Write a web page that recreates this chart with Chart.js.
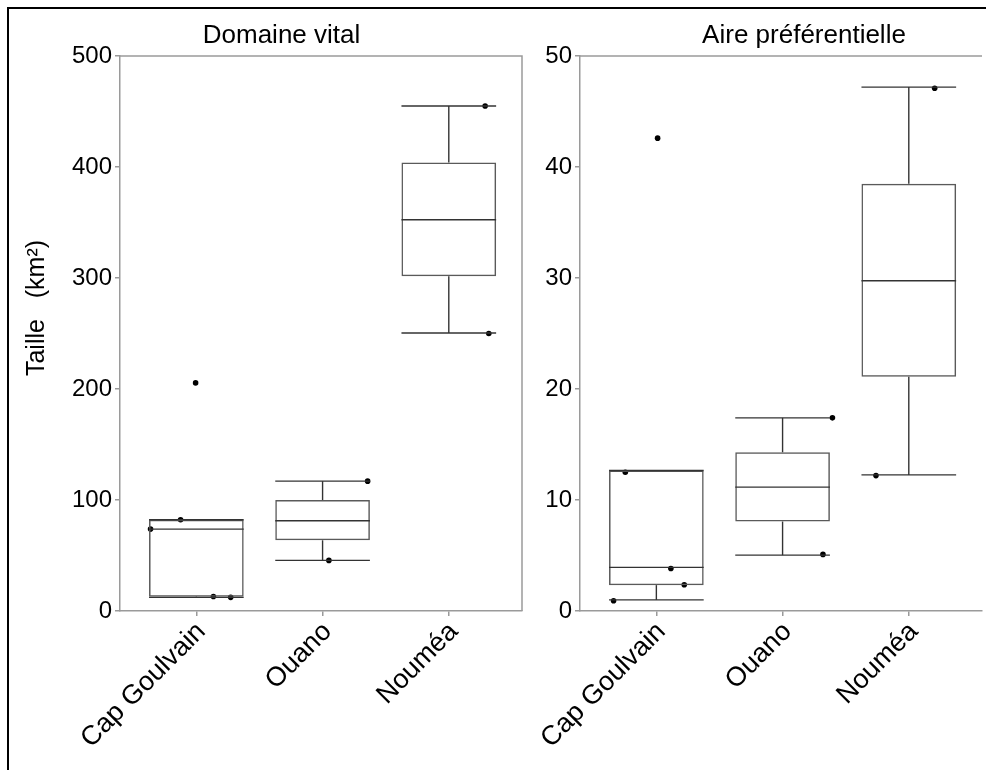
<!DOCTYPE html>
<html>
<head>
<meta charset="utf-8">
<script src="https://cdn.jsdelivr.net/npm/chart.js@4.4.1/dist/chart.umd.min.js"></script>
<style>
  html, body { margin: 0; padding: 0; background: #fff; width: 986px; height: 770px; overflow: hidden; }
  #frame { position: absolute; left: 7px; top: 7px; width: 1200px; height: 1000px; border: 2px solid #000; }
  canvas { position: absolute; top: 0; }
</style>
</head>
<body>
<div id="frame"></div>
<canvas id="vital" width="530" height="770" style="left:0"></canvas>
<canvas id="pref" width="456" height="770" style="left:530px"></canvas>
<script>
// Box plots of home range sizes (km²) per site
const sites = ['Cap Goulvain', 'Ouano', 'Nouméa'];

// Domaine vital
const vitalTicks = [0, 100, 200, 300, 400, 500];
const vitalQ1 = [12.9, 63.7, 301.5];
const vitalMedian = [73.8, 81.3, 352.5];
const vitalQ3 = [82.2, 100, 404];
const vitalLow = [12.3, 45.6, 250.5];
const vitalHigh = [82.2, 117, 455];
const vitalPointSite = [1, 1, 1, 1, 1, 2, 2, 3, 3];
const vitalPointValue = [73.8, 82.2, 205.5, 13, 12.3, 117, 45.6, 455, 250];
const vitalPointJitter = [-0.363, -0.125, -0.006, 0.135, 0.272, 0.357, 0.05, 0.288, 0.317];

// Aire préférentielle
const prefTicks = [0, 10, 20, 30, 40, 50];
const prefQ1 = [2.33, 8.06, 21.1];
const prefMedian = [3.93, 11.16, 29.75];
const prefQ3 = [12.66, 14.3, 38.5];
const prefLow = [1.0, 5.03, 12.26];
const prefHigh = [12.66, 17.4, 47.2];
const prefPointSite = [1, 1, 1, 1, 1, 2, 2, 3, 3];
const prefPointValue = [0.93, 12.5, 42.6, 3.83, 2.37, 17.4, 5.1, 47.1, 12.2];
const prefPointJitter = [-0.339, -0.246, 0.01, 0.115, 0.221, 0.395, 0.32, 0.205, -0.26];

const FONT = "'Liberation Sans', Arial, sans-serif";
const AXIS_GREY = '#9a9a9a';

// whiskers, medians, plot frame and the titles
const boxPlot = {
    id: 'boxPlot',
    afterDatasetDraw(chart, args, opts) {
        if (args.index !== 0) return;
        const { ctx, scales: { x, y } } = chart;
        const hw = opts.halfWidth;
        const line = (x1, y1, x2, y2) => {
            ctx.beginPath();
            ctx.moveTo(x1, y1);
            ctx.lineTo(x2, y2);
            ctx.stroke();
        };
        ctx.save();
        ctx.strokeStyle = '#333';
        ctx.lineWidth = 1.4;
        opts.median.forEach((m, i) => {
            const xc = x.getPixelForValue(i + 1);
            const xl = x.getPixelForValue(i + 1 - hw);
            const xr = x.getPixelForValue(i + 1 + hw);
            line(xl, y.getPixelForValue(m), xr, y.getPixelForValue(m));
            line(xc, y.getPixelForValue(opts.q3[i]), xc, y.getPixelForValue(opts.high[i]));
            line(xc, y.getPixelForValue(opts.q1[i]), xc, y.getPixelForValue(opts.low[i]));
            line(xl, y.getPixelForValue(opts.high[i]), xr, y.getPixelForValue(opts.high[i]));
            line(xl, y.getPixelForValue(opts.low[i]), xr, y.getPixelForValue(opts.low[i]));
        });
        ctx.restore();
    },
    afterDraw(chart, args, opts) {
        const { ctx, chartArea } = chart;
        ctx.save();
        ctx.strokeStyle = AXIS_GREY;
        ctx.lineWidth = 1.5;
        ctx.beginPath();
        ctx.moveTo(chartArea.left, chartArea.top);
        ctx.lineTo(chartArea.right, chartArea.top);
        if (opts.rightBorder) ctx.lineTo(chartArea.right, chartArea.bottom);
        ctx.stroke();

        ctx.fillStyle = '#000';
        ctx.font = '26px ' + FONT;
        ctx.textAlign = 'center';
        ctx.textBaseline = 'alphabetic';
        ctx.fillText(opts.title, opts.titleX, 43);

        if (opts.yTitle) {
            ctx.font = '25px ' + FONT;
            ctx.textBaseline = 'middle';
            ctx.translate(37, 308);
            ctx.rotate(-Math.PI / 2);
            ctx.fillText(opts.yTitle, 0, 0);
        }
        ctx.restore();
    }
};

function buildChart(canvasId, cfg) {
    const ctx = document.getElementById(canvasId);
    return new Chart(ctx, {
        data: {
            datasets: [{
                type: 'bar',
                data: sites.map((s, i) => ({ x: i + 1, y: [cfg.q1[i], cfg.q3[i]] })),
                backgroundColor: 'rgba(255,255,255,0)',
                borderColor: '#5a5a5a',
                borderWidth: 1.5,
                borderSkipped: false,
                barPercentage: 0.75,
                categoryPercentage: 1
            }, {
                type: 'scatter',
                data: cfg.pointValue.map((v, i) => ({ x: cfg.pointSite[i] + cfg.pointJitter[i], y: v })),
                pointRadius: 2.8,
                pointBackgroundColor: '#000',
                pointBorderWidth: 0
            }]
        },
        options: {
            responsive: false,
            animation: false,
            layout: { padding: { left: 0, top: 56, right: cfg.padRight, bottom: 0 } },
            plugins: {
                legend: { display: false },
                tooltip: { enabled: false },
                boxPlot: {
                    halfWidth: 0.375,
                    q1: cfg.q1, median: cfg.median, q3: cfg.q3, low: cfg.low, high: cfg.high,
                    title: cfg.title, titleX: cfg.titleX, yTitle: cfg.yTitle,
                    rightBorder: cfg.rightBorder
                }
            },
            scales: {
                x: {
                    type: 'linear',
                    min: 0.395,
                    max: 3.58,
                    offset: false,
                    afterBuildTicks: (s) => { s.ticks = sites.map((n, i) => ({ value: i + 1 })); },
                    afterFit: (s) => { s.height = 159; },
                    ticks: {
                        callback: (v) => sites[v - 1] || '',
                        minRotation: 45,
                        maxRotation: 45,
                        padding: 0,
                        labelOffset: 5,
                        color: '#000',
                        font: { family: FONT, size: 27 }
                    },
                    grid: { offset: false, drawOnChartArea: false, tickLength: 5, color: AXIS_GREY, lineWidth: 1.5 },
                    border: { display: true, color: AXIS_GREY, width: 1.5 }
                },
                y: {
                    min: 0,
                    max: cfg.ticks[cfg.ticks.length - 1],
                    afterBuildTicks: (s) => { s.ticks = cfg.ticks.map(v => ({ value: v })); },
                    afterFit: (s) => { s.width = cfg.yWidth; },
                    ticks: {
                        padding: 3,
                        color: '#000',
                        font: { family: FONT, size: 24 }
                    },
                    grid: { drawOnChartArea: false, tickLength: 5, color: AXIS_GREY, lineWidth: 1.5 },
                    border: { display: true, color: AXIS_GREY, width: 1.5 }
                }
            }
        },
        plugins: [boxPlot]
    });
}

buildChart('vital', {
    q1: vitalQ1, median: vitalMedian, q3: vitalQ3, low: vitalLow, high: vitalHigh,
    pointSite: vitalPointSite, pointValue: vitalPointValue, pointJitter: vitalPointJitter,
    ticks: vitalTicks, title: 'Domaine vital', titleX: 281.5, yTitle: 'Taille   (km²)',
    yWidth: 120, padRight: 8, rightBorder: true
});

buildChart('pref', {
    q1: prefQ1, median: prefMedian, q3: prefQ3, low: prefLow, high: prefHigh,
    pointSite: prefPointSite, pointValue: prefPointValue, pointJitter: prefPointJitter,
    ticks: prefTicks, title: 'Aire préférentielle', titleX: 274, yTitle: null,
    yWidth: 50, padRight: 1, rightBorder: false
});
</script>
</body>
</html>
